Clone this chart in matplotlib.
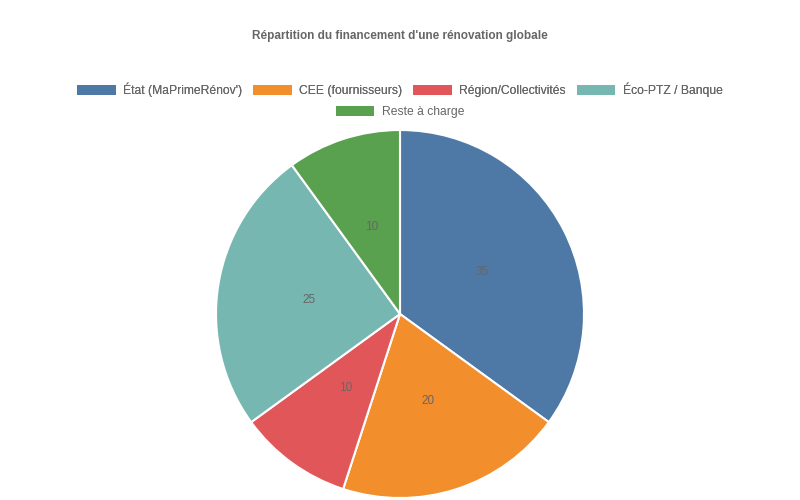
import matplotlib
matplotlib.use("Agg")
import matplotlib.pyplot as plt
from matplotlib.patches import Patch

# ---------- Données ----------
categories = ["État (MaPrimeRénov')", "CEE (fournisseurs)", "Région/Collectivités",
              "Éco-PTZ / Banque", "Reste à charge"]
valeurs = [35, 20, 10, 25, 10]
couleurs = ["#4e79a7", "#f28e2b", "#e15759", "#76b7b2", "#59a14f"]
titre = "Répartition du financement d'une rénovation globale"

plt.rcParams["font.family"] = ["Liberation Sans", "DejaVu Sans"]

fig = plt.figure(figsize=(8, 5), dpi=100)
ax = fig.add_axes([0.27, 0.004, 0.46, 0.736])

wedges, textes = ax.pie(
    valeurs,
    colors=couleurs,
    startangle=90,
    counterclock=False,
    labels=[str(v) for v in valeurs],
    labeldistance=0.5,
    wedgeprops={"edgecolor": "white", "linewidth": 1.5, "clip_on": False},
    textprops={"color": "#666666", "fontsize": 8.5, "ha": "center", "va": "center"},
)
ax.set_xlim(-1.0, 1.0)
ax.set_ylim(-1.0, 1.0)
ax.set_aspect("equal")

fig.text(0.5, 1 - 36 / 500, titre, ha="center", va="center",
         fontsize=8.5, fontweight="bold", color="#666666")

poignees = [Patch(facecolor=c, edgecolor="none") for c in couleurs]
opts = dict(loc="center", frameon=False, fontsize=8.7, handlelength=3.2,
            handleheight=0.85, handletextpad=0.6, columnspacing=0.9,
            labelcolor="#666666")
leg1 = fig.legend(poignees[:4], categories[:4], ncol=4,
                  bbox_to_anchor=(0.5, 1 - 90 / 500), **opts)
leg2 = fig.legend(poignees[4:], categories[4:], ncol=1,
                  bbox_to_anchor=(0.5, 1 - 112 / 500), **opts)
fig.add_artist(leg1)

fig.savefig("out.png", dpi=100)
